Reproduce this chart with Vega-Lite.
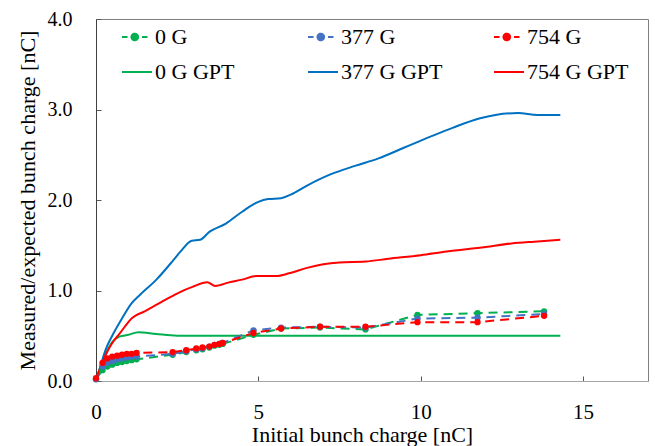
{
  "$schema": "https://vega.github.io/schema/vega-lite/v6.json",
  "width": 552,
  "height": 362,
  "autosize": {"type": "none"},
  "padding": {"left": 96, "top": 19, "right": 7, "bottom": 65},
  "background": "white",
  "config": {
    "font": "Liberation Serif",
    "view": {"stroke": "#808080", "strokeWidth": 1},
    "axis": {"labelFont": "Liberation Serif", "titleFont": "Liberation Serif", "labelFontSize": 20, "titleFontSize": 22, "labelColor": "#000", "titleColor": "#000", "titleFontWeight": "normal", "grid": false, "tickSize": -5, "tickColor": "#595959", "labelFlush": false, "labelOverlap": false}
  },
  "datasets": {
    "meas": [
      {"series": "0 G", "x": 0, "y": 0.02}, {"series": "0 G", "x": 0.2, "y": 0.12}, {"series": "0 G", "x": 0.35, "y": 0.16}, {"series": "0 G", "x": 0.5, "y": 0.18}, {"series": "0 G", "x": 0.65, "y": 0.2}, {"series": "0 G", "x": 0.8, "y": 0.21}, {"series": "0 G", "x": 0.95, "y": 0.22}, {"series": "0 G", "x": 1.1, "y": 0.23}, {"series": "0 G", "x": 1.25, "y": 0.24}, {"series": "0 G", "x": 2.36, "y": 0.29}, {"series": "0 G", "x": 2.78, "y": 0.32}, {"series": "0 G", "x": 3.09, "y": 0.34}, {"series": "0 G", "x": 3.28, "y": 0.35}, {"series": "0 G", "x": 3.49, "y": 0.37}, {"series": "0 G", "x": 3.65, "y": 0.39}, {"series": "0 G", "x": 3.8, "y": 0.4}, {"series": "0 G", "x": 3.9, "y": 0.41}, {"series": "0 G", "x": 4.85, "y": 0.51}, {"series": "0 G", "x": 5.7, "y": 0.58}, {"series": "0 G", "x": 6.9, "y": 0.59}, {"series": "0 G", "x": 8.3, "y": 0.57}, {"series": "0 G", "x": 9.9, "y": 0.73}, {"series": "0 G", "x": 11.75, "y": 0.75}, {"series": "0 G", "x": 13.8, "y": 0.77},
      {"series": "377 G", "x": 0, "y": 0.02}, {"series": "377 G", "x": 0.2, "y": 0.16}, {"series": "377 G", "x": 0.35, "y": 0.2}, {"series": "377 G", "x": 0.5, "y": 0.22}, {"series": "377 G", "x": 0.65, "y": 0.24}, {"series": "377 G", "x": 0.8, "y": 0.25}, {"series": "377 G", "x": 0.95, "y": 0.26}, {"series": "377 G", "x": 1.1, "y": 0.27}, {"series": "377 G", "x": 1.25, "y": 0.27}, {"series": "377 G", "x": 2.36, "y": 0.3}, {"series": "377 G", "x": 2.78, "y": 0.33}, {"series": "377 G", "x": 3.09, "y": 0.35}, {"series": "377 G", "x": 3.28, "y": 0.36}, {"series": "377 G", "x": 3.49, "y": 0.38}, {"series": "377 G", "x": 3.65, "y": 0.4}, {"series": "377 G", "x": 3.8, "y": 0.41}, {"series": "377 G", "x": 3.9, "y": 0.42}, {"series": "377 G", "x": 4.85, "y": 0.56}, {"series": "377 G", "x": 5.7, "y": 0.59}, {"series": "377 G", "x": 6.9, "y": 0.6}, {"series": "377 G", "x": 8.3, "y": 0.59}, {"series": "377 G", "x": 9.9, "y": 0.69}, {"series": "377 G", "x": 11.75, "y": 0.7}, {"series": "377 G", "x": 13.8, "y": 0.74},
      {"series": "754 G", "x": 0, "y": 0.03}, {"series": "754 G", "x": 0.2, "y": 0.2}, {"series": "754 G", "x": 0.35, "y": 0.25}, {"series": "754 G", "x": 0.5, "y": 0.27}, {"series": "754 G", "x": 0.65, "y": 0.28}, {"series": "754 G", "x": 0.8, "y": 0.29}, {"series": "754 G", "x": 0.95, "y": 0.3}, {"series": "754 G", "x": 1.1, "y": 0.3}, {"series": "754 G", "x": 1.25, "y": 0.31}, {"series": "754 G", "x": 2.36, "y": 0.32}, {"series": "754 G", "x": 2.78, "y": 0.34}, {"series": "754 G", "x": 3.09, "y": 0.36}, {"series": "754 G", "x": 3.28, "y": 0.37}, {"series": "754 G", "x": 3.49, "y": 0.38}, {"series": "754 G", "x": 3.65, "y": 0.4}, {"series": "754 G", "x": 3.8, "y": 0.41}, {"series": "754 G", "x": 3.9, "y": 0.42}, {"series": "754 G", "x": 4.85, "y": 0.53}, {"series": "754 G", "x": 5.7, "y": 0.58}, {"series": "754 G", "x": 6.9, "y": 0.6}, {"series": "754 G", "x": 8.3, "y": 0.6}, {"series": "754 G", "x": 9.9, "y": 0.65}, {"series": "754 G", "x": 11.75, "y": 0.65}, {"series": "754 G", "x": 13.8, "y": 0.72}
    ],
    "gpt": [
      {"series": "0 G GPT", "x": 0, "y": 0}, {"series": "0 G GPT", "x": 0.15, "y": 0.17}, {"series": "0 G GPT", "x": 0.3, "y": 0.3}, {"series": "0 G GPT", "x": 0.5, "y": 0.43}, {"series": "0 G GPT", "x": 0.72, "y": 0.49}, {"series": "0 G GPT", "x": 1.0, "y": 0.51}, {"series": "0 G GPT", "x": 1.3, "y": 0.54}, {"series": "0 G GPT", "x": 1.85, "y": 0.52}, {"series": "0 G GPT", "x": 2.5, "y": 0.5}, {"series": "0 G GPT", "x": 5.0, "y": 0.5}, {"series": "0 G GPT", "x": 10.0, "y": 0.5}, {"series": "0 G GPT", "x": 14.3, "y": 0.5},
      {"series": "377 G GPT", "x": 0, "y": 0}, {"series": "377 G GPT", "x": 0.15, "y": 0.18}, {"series": "377 G GPT", "x": 0.3, "y": 0.35}, {"series": "377 G GPT", "x": 0.5, "y": 0.5}, {"series": "377 G GPT", "x": 0.8, "y": 0.69}, {"series": "377 G GPT", "x": 1.1, "y": 0.86}, {"series": "377 G GPT", "x": 1.35, "y": 0.95}, {"series": "377 G GPT", "x": 1.86, "y": 1.12}, {"series": "377 G GPT", "x": 2.37, "y": 1.33}, {"series": "377 G GPT", "x": 2.6, "y": 1.43}, {"series": "377 G GPT", "x": 2.95, "y": 1.55}, {"series": "377 G GPT", "x": 3.2, "y": 1.56}, {"series": "377 G GPT", "x": 3.5, "y": 1.65}, {"series": "377 G GPT", "x": 4.0, "y": 1.74}, {"series": "377 G GPT", "x": 4.5, "y": 1.87}, {"series": "377 G GPT", "x": 5.0, "y": 1.98}, {"series": "377 G GPT", "x": 5.3, "y": 2.01}, {"series": "377 G GPT", "x": 5.7, "y": 2.02}, {"series": "377 G GPT", "x": 6.0, "y": 2.06}, {"series": "377 G GPT", "x": 6.5, "y": 2.16}, {"series": "377 G GPT", "x": 7.2, "y": 2.28}, {"series": "377 G GPT", "x": 8.0, "y": 2.38}, {"series": "377 G GPT", "x": 8.7, "y": 2.46}, {"series": "377 G GPT", "x": 9.5, "y": 2.58}, {"series": "377 G GPT", "x": 10.3, "y": 2.7}, {"series": "377 G GPT", "x": 11.0, "y": 2.8}, {"series": "377 G GPT", "x": 11.8, "y": 2.9}, {"series": "377 G GPT", "x": 12.3, "y": 2.94}, {"series": "377 G GPT", "x": 13.0, "y": 2.96}, {"series": "377 G GPT", "x": 13.6, "y": 2.94}, {"series": "377 G GPT", "x": 14.3, "y": 2.94},
      {"series": "754 G GPT", "x": 0, "y": 0}, {"series": "754 G GPT", "x": 0.15, "y": 0.16}, {"series": "754 G GPT", "x": 0.3, "y": 0.29}, {"series": "754 G GPT", "x": 0.5, "y": 0.42}, {"series": "754 G GPT", "x": 0.72, "y": 0.52}, {"series": "754 G GPT", "x": 1.12, "y": 0.7}, {"series": "754 G GPT", "x": 1.5, "y": 0.77}, {"series": "754 G GPT", "x": 1.85, "y": 0.84}, {"series": "754 G GPT", "x": 2.2, "y": 0.91}, {"series": "754 G GPT", "x": 2.57, "y": 0.98}, {"series": "754 G GPT", "x": 2.97, "y": 1.04}, {"series": "754 G GPT", "x": 3.43, "y": 1.09}, {"series": "754 G GPT", "x": 3.67, "y": 1.05}, {"series": "754 G GPT", "x": 4.1, "y": 1.09}, {"series": "754 G GPT", "x": 4.5, "y": 1.12}, {"series": "754 G GPT", "x": 4.93, "y": 1.16}, {"series": "754 G GPT", "x": 5.55, "y": 1.16}, {"series": "754 G GPT", "x": 5.95, "y": 1.19}, {"series": "754 G GPT", "x": 6.5, "y": 1.25}, {"series": "754 G GPT", "x": 7.0, "y": 1.29}, {"series": "754 G GPT", "x": 7.5, "y": 1.31}, {"series": "754 G GPT", "x": 8.3, "y": 1.32}, {"series": "754 G GPT", "x": 9.0, "y": 1.35}, {"series": "754 G GPT", "x": 10.0, "y": 1.39}, {"series": "754 G GPT", "x": 10.8, "y": 1.43}, {"series": "754 G GPT", "x": 12.0, "y": 1.48}, {"series": "754 G GPT", "x": 12.8, "y": 1.52}, {"series": "754 G GPT", "x": 13.5, "y": 1.54}, {"series": "754 G GPT", "x": 14.3, "y": 1.56}
    ]
  },
  "encoding": {
    "x": {"field": "x", "type": "quantitative", "title": "Initial bunch charge [nC]",
      "scale": {"domain": [0, 17], "nice": false},
      "axis": {"values": [0, 5, 10, 15], "labelPadding": 25, "labelFontSize": 21, "titlePadding": 2, "titleX": 266, "domainColor": "#a6a6a6"}},
    "y": {"field": "y", "type": "quantitative", "title": "Measured/expected bunch charge [nC]",
      "scale": {"domain": [0, 4], "nice": false},
      "axis": {"values": [0, 1, 2, 3, 4], "format": ".1f", "labelPadding": 29, "titlePadding": 8, "domainColor": "#404040"}},
    "color": {"field": "series", "type": "nominal",
      "scale": {"domain": ["0 G", "377 G", "754 G", "0 G GPT", "377 G GPT", "754 G GPT"],
        "range": ["#00B050", "#4472C4", "#FF0000", "#00B050", "#0070C0", "#FF0000"]},
      "legend": {"title": null, "orient": "none", "direction": "horizontal", "legendX": 25, "legendY": 2, "columns": 3, "gridAlign": "all",
        "columnPadding": 47, "rowPadding": 8, "padding": 0, "symbolSize": 900, "symbolStrokeWidth": 2,
        "labelFont": "Liberation Serif", "labelFontSize": 22, "labelColor": "#000", "labelOffset": 2, "labelLimit": 0,
        "encode": {"symbols": {"update": {
          "shape": {"signal": "indexof(datum.value, 'GPT') >= 0 ? 'M-1,0H1' : 'M-1,0H-0.63M0.33,0H0.7M-0.37,0A0.22,0.22 0 1,0 0.07,0A0.22,0.22 0 1,0 -0.37,0'"},
          "stroke": {"signal": "scale('color', datum.value)"},
          "fill": {"signal": "scale('color', datum.value)"},
          "fillOpacity": {"value": 1},
          "strokeOpacity": {"value": 1},
          "strokeWidth": {"value": 2},
          "strokeDash": {"value": [1, 0]}
        }}}}
    }
  },
  "layer": [
    {"data": {"name": "gpt"}, "mark": {"type": "line", "strokeWidth": 2, "interpolate": "monotone"}},
    {"data": {"name": "meas"}, "mark": {"type": "line", "strokeWidth": 2, "strokeDash": [9, 6]}},
    {"data": {"name": "meas"}, "mark": {"type": "point", "filled": true, "size": 40, "opacity": 1, "shape": "circle"}}
  ]
}
